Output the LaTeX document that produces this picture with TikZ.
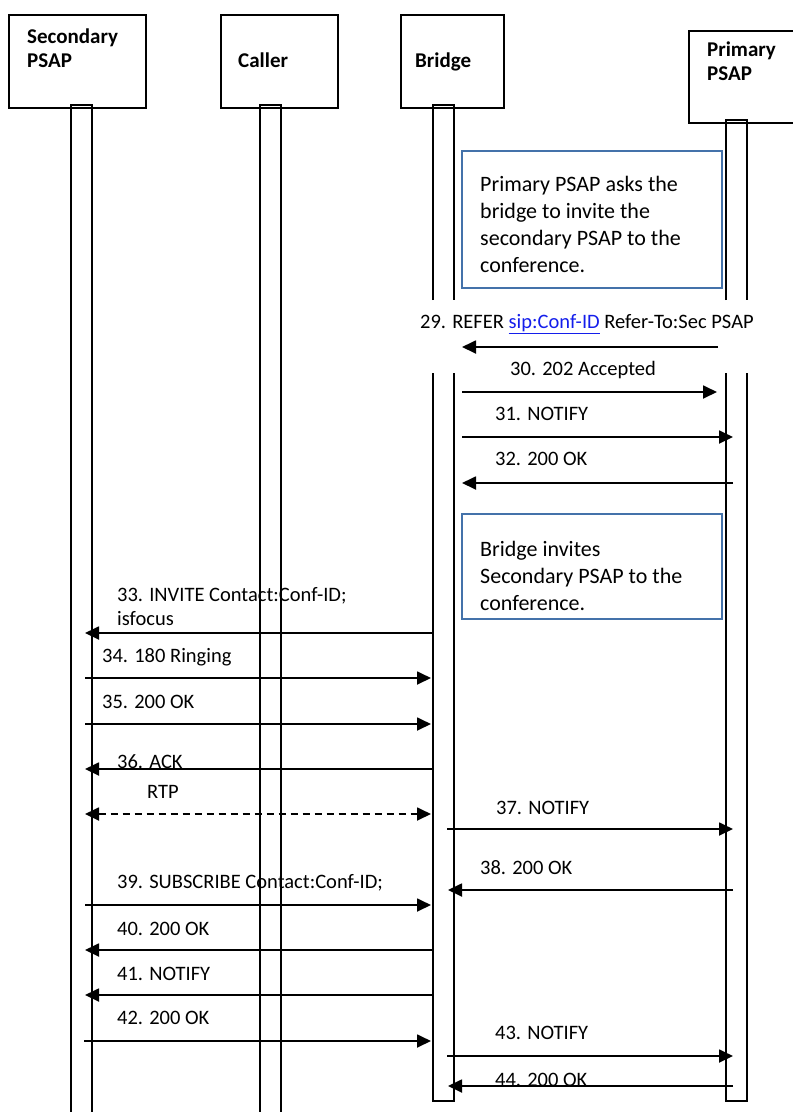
\documentclass[tikz,border=0pt]{standalone}
\usepackage{fontspec}
\setmainfont{Carlito}
\usetikzlibrary{arrows.meta}
\definecolor{notecol}{RGB}{68,114,170}
\definecolor{linkcol}{RGB}{20,30,235}
\begin{document}
\begin{tikzpicture}[x=1pt,y=-1pt,
  headbox/.style={draw, line width=1.5pt, anchor=north west, inner sep=0pt},
  headtext/.style={anchor=base west, inner sep=0pt, align=left, font=\fontsize{21}{24}\selectfont\bfseries},
  bar/.style={line width=1.5pt},
  notebox/.style={draw=notecol, line width=1.5pt, anchor=north west, inner sep=0pt},
  notetext/.style={anchor=base west, inner sep=0pt, align=left, font=\fontsize{22}{27}\selectfont},
  lbl/.style={anchor=base west, inner sep=0pt, align=left, font=\fontsize{20.5}{23.5}\selectfont},
  msg/.style={line width=1.8pt, -{Triangle[length=14pt,width=13pt]}},
  rtp/.style={line width=1.8pt, dash pattern=on 7pt off 5pt, {Triangle[length=14pt,width=13pt]}-{Triangle[length=14pt,width=13pt]}}
]
\useasboundingbox (0,0) rectangle (793,1112);
\clip (0,0) rectangle (793,1112);

% ---------- headers ----------
\node[headbox, minimum width=137pt, minimum height=93pt] (secbox) at (8,14) {};
\node[headtext] (sectxt) at (27,67) {Secondary\\PSAP};
\node[headbox, minimum width=117pt, minimum height=93pt] (calbox) at (220,14) {};
\node[headtext] (caltxt) at (238,67) {Caller};
\node[headbox, minimum width=103pt, minimum height=93pt] (brbox) at (400,14) {};
\node[headtext] (brtxt) at (415,67) {Bridge};
\node[headbox, minimum width=130pt, minimum height=92pt] (prbox) at (688,30) {};
\node[headtext] (prtxt) at (707,80) {Primary\\PSAP};

% ---------- lifeline bars ----------
\draw[bar] (71,1120) -- (71,105) -- (92,105) -- (92,1120);
\draw[bar] (260,1120) -- (260,105) -- (281,105) -- (281,1120);
\draw[bar] (433,300) -- (433,105) -- (454,105) -- (454,300);
\draw[bar] (433,373) -- (433,1101) -- (454,1101) -- (454,373);
\draw[bar] (726,300) -- (726,120) -- (747,120) -- (747,300);
\draw[bar] (726,373) -- (726,1101) -- (747,1101) -- (747,373);

% ---------- notes ----------
\node[notebox, minimum width=260pt, minimum height=137pt] (note1) at (461,150) {};
\node[notetext] (note1txt) at (480,272) {Primary PSAP asks the\\bridge to invite the\\secondary PSAP to the\\conference.};
\node[notebox, minimum width=260pt, minimum height=105pt] (note2) at (461,513) {};
\node[notetext] (note2txt) at (480,610) {Bridge invites\\Secondary PSAP to the\\conference.};

% ---------- message end points ----------
\coordinate (a29) at (718,347);  \coordinate (b29) at (462,347);
\coordinate (a30) at (462,392);  \coordinate (b30) at (717,392);
\coordinate (a31) at (462,437);  \coordinate (b31) at (733,437);
\coordinate (a32) at (733,483);  \coordinate (b32) at (462,483);
\coordinate (a33) at (432,633);  \coordinate (b33) at (85,633);
\coordinate (a34) at (85,678);   \coordinate (b34) at (431,678);
\coordinate (a35) at (85,724);   \coordinate (b35) at (431,724);
\coordinate (a36) at (432,769);  \coordinate (b36) at (85,769);
\coordinate (artp) at (85,814);  \coordinate (brtp) at (431,814);
\coordinate (a37) at (447,829);  \coordinate (b37) at (733,829);
\coordinate (a38) at (733,890);  \coordinate (b38) at (448,890);
\coordinate (a39) at (85,905);   \coordinate (b39) at (431,905);
\coordinate (a40) at (432,950);  \coordinate (b40) at (85,950);
\coordinate (a41) at (432,995);  \coordinate (b41) at (85,995);
\coordinate (a42) at (84,1041);  \coordinate (b42) at (431,1041);
\coordinate (a43) at (447,1056); \coordinate (b43) at (733,1056);
\coordinate (a44) at (733,1086); \coordinate (b44) at (448,1086);

% ---------- labels ----------
\node[lbl] (l29) at (420,328) {29. REFER {\color{linkcol}\underline{sip:Conf-ID}} Refer-To:Sec PSAP};
\node[lbl] (l30) at (510,375) {30. 202 Accepted};
\node[lbl] (l31) at (495,420) {31. NOTIFY};
\node[lbl] (l32) at (495,465) {32. 200 OK};
\node[lbl] (l33) at (117,625) {33. INVITE Contact:Conf-ID;\\isfocus};
\node[lbl] (l34) at (102,662) {34. 180 Ringing};
\node[lbl] (l35) at (102,708) {35. 200 OK};
\node[lbl] (l36) at (117,768) {36. ACK};
\node[lbl] (lrtp) at (147,798) {RTP};
\node[lbl] (l37) at (496,814) {37. NOTIFY};
\node[lbl] (l38) at (480,874) {38. 200 OK};
\node[lbl] (l39) at (117,888) {39. SUBSCRIBE Contact:Conf-ID;};
\node[lbl] (l40) at (117,935) {40. 200 OK};
\node[lbl] (l41) at (117,980) {41. NOTIFY};
\node[lbl] (l42) at (117,1024) {42. 200 OK};
\node[lbl] (l43) at (495,1039) {43. NOTIFY};
\node[lbl] (l44) at (495,1086) {44. 200 OK};

% ---------- messages ----------
\draw[msg] (a29) -- (b29);
\draw[msg] (a30) -- (b30);
\draw[msg] (a31) -- (b31);
\draw[msg] (a32) -- (b32);
\draw[msg] (a33) -- (b33);
\draw[msg] (a34) -- (b34);
\draw[msg] (a35) -- (b35);
\draw[msg] (a36) -- (b36);
\draw[rtp] (artp) -- (brtp);
\draw[msg] (a37) -- (b37);
\draw[msg] (a38) -- (b38);
\draw[msg] (a39) -- (b39);
\draw[msg] (a40) -- (b40);
\draw[msg] (a41) -- (b41);
\draw[msg] (a42) -- (b42);
\draw[msg] (a43) -- (b43);
\draw[msg] (a44) -- (b44);
\end{tikzpicture}
\end{document}
